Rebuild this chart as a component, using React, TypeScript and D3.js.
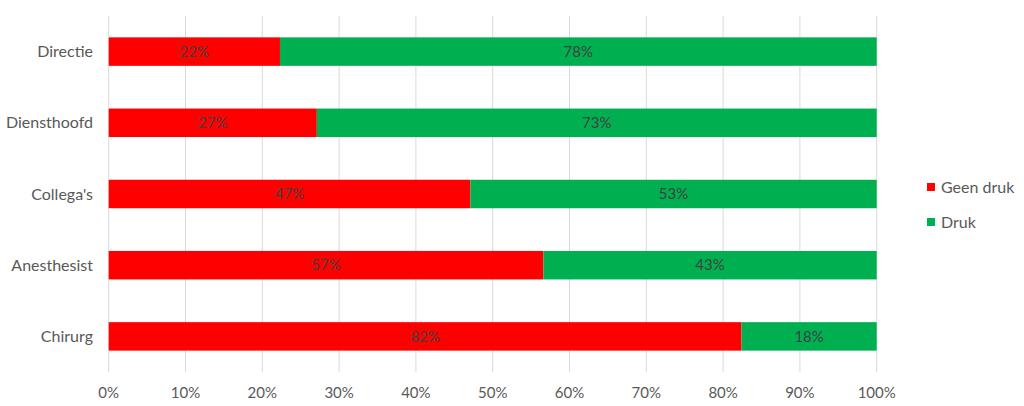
import React from "react";
import * as d3 from "d3";

const categories = ["Directie", "Diensthoofd", "Collega's", "Anesthesist", "Chirurg"];
const geenDruk = [22.3, 27.1, 47.1, 56.6, 82.4];
const druk = [77.7, 72.9, 52.9, 43.4, 17.6];
const seriesNames = ["Geen druk", "Druk"];
const seriesColors = ["#FF0000", "#00B050"];
const xTicks = [0, 10, 20, 30, 40, 50, 60, 70, 80, 90, 100];

const W = 1024;
const H = 406;
const FONT = "Lato, 'Open Sans', sans-serif";

export default function App() {
  const x = d3.scaleLinear().domain([0, 100]).range([108.7, 876.7]);
  const y = d3
    .scaleBand<string>()
    .domain(categories)
    .range([16, 372])
    .paddingInner(0.6)
    .paddingOuter(0.3);

  const rows = categories.map((c, i) => ({ c, vals: [geenDruk[i], druk[i]] }));

  return (
    <div style={{ position: "absolute", left: 0, top: 0 }}>
      <svg width={W} height={H} style={{ display: "block", background: "#fff" }}>
        {xTicks.map((t) => (
          <line
            key={t}
            x1={x(t)}
            x2={x(t)}
            y1={16}
            y2={372}
            stroke="#D9D9D9"
            strokeWidth={1}
          />
        ))}
        {rows.map((r) => {
          let acc = 0;
          const y0 = y(r.c)!;
          const bw = y.bandwidth();
          return (
            <g key={r.c}>
              {r.vals.map((v, si) => {
                const x0 = x(acc);
                const x1 = x(acc + v);
                acc += v;
                return (
                  <g key={si}>
                    <rect x={x0} y={y0} width={x1 - x0} height={bw} fill={seriesColors[si]} />
                    <text
                      x={(x0 + x1) / 2}
                      y={y0 + bw / 2}
                      dy="0.35em"
                      textAnchor="middle"
                      fontFamily={FONT}
                      fontSize={15}
                      fill="#404040"
                    >
                      {Math.round(v)}%
                    </text>
                  </g>
                );
              })}
              <text
                x={93}
                y={y0 + bw / 2}
                dy="0.35em"
                textAnchor="end"
                fontFamily={FONT}
                fontSize={16}
                fill="#595959"
              >
                {r.c}
              </text>
            </g>
          );
        })}
        {xTicks.map((t) => (
          <text
            key={t}
            x={x(t)}
            y={393}
            dy="0.35em"
            textAnchor="middle"
            fontFamily={FONT}
            fontSize={15}
            fill="#595959"
          >
            {t}%
          </text>
        ))}
        {seriesNames.map((n, i) => (
          <g key={n} transform={`translate(927, ${187 + i * 35})`}>
            <rect x={0} y={-4} width={8} height={8} fill={seriesColors[i]} />
            <text x={14} y={0} dy="0.35em" fontFamily={FONT} fontSize={16} fill="#595959">
              {n}
            </text>
          </g>
        ))}
      </svg>
    </div>
  );
}
